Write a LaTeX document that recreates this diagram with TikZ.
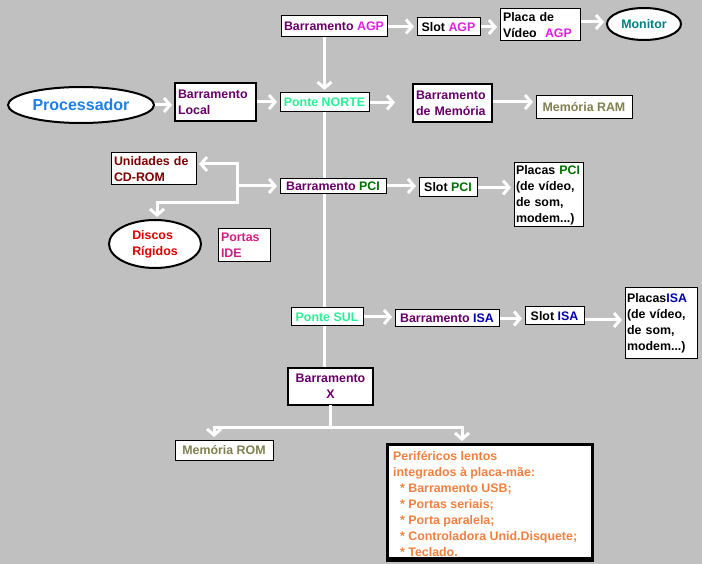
\documentclass[tikz,border=0pt]{standalone}
\usepackage{fontspec}
\setmainfont{Liberation Sans}
\usetikzlibrary{arrows.meta,shapes.geometric,calc}
\pgfdeclarelayer{bg}\pgfsetlayers{bg,main}
\definecolor{bgc}{RGB}{192,192,192}
\definecolor{purp}{RGB}{102,0,102}
\definecolor{magt}{RGB}{224,32,224}
\definecolor{tealt}{RGB}{0,128,128}
\definecolor{bluep}{RGB}{30,128,230}
\definecolor{mint}{RGB}{40,240,150}
\definecolor{olivet}{RGB}{128,128,80}
\definecolor{darkr}{RGB}{128,0,0}
\definecolor{redt}{RGB}{220,0,0}
\definecolor{pinkt}{RGB}{210,30,130}
\definecolor{greent}{RGB}{0,110,0}
\definecolor{bluei}{RGB}{0,0,170}
\definecolor{orat}{RGB}{240,128,64}
\begin{document}
\begin{tikzpicture}[x=1pt,y=-1pt,
  txt/.style={font=\bfseries\fontsize{12.4}{16}\selectfont},
  box/.style={txt,draw=black,fill=white,line width=1pt,inner sep=1pt,outer sep=0pt},
  tbox/.style={box,line width=2pt},
  lbox/.style={box,align=left,inner xsep=3pt,inner ysep=1pt},
  ell/.style={ellipse,txt,draw=black,fill=white,line width=2pt,inner sep=0pt,outer sep=0pt},
  wl/.style={draw=white,line width=3pt},
  warr/.style={wl,-{Straight Barb[length=6pt,width=14pt]},shorten >=3pt,shorten <=1pt}]
\useasboundingbox (0,0) rectangle (702,564);
% top row
\node[box,minimum width=106pt,minimum height=21pt] (agp) at (334,26.5) {\color{purp}Barramento \color{magt}AGP};
\node[box,minimum width=63pt,minimum height=18pt] (slotagp) at (448.5,27) {Slot \color{magt}AGP};
\node[lbox,text width=74pt,minimum height=32pt] (placa) at (540,25) {Placa de\\Vídeo\ \ {\color{magt}AGP}};
\node[ell,minimum width=74pt,minimum height=32pt,text=tealt] (mon) at (644,24) {Monitor};
% second row
\node[ell,minimum width=146pt,minimum height=36pt,text=bluep,font=\bfseries\fontsize{16}{19}\selectfont] (proc) at (81,105) {Processador};
\node[lbox,line width=2pt,text width=75pt,minimum height=38pt,text=purp] (local) at (215.5,102) {Barramento\\Local};
\node[box,minimum width=89pt,minimum height=19pt,text=mint] (pn) at (324.5,102.5) {Ponte NORTE};
\node[lbox,line width=2pt,text width=73pt,minimum height=38pt,text=purp] (mem) at (452.5,103) {Barramento\\de Memória};
\node[box,minimum width=96pt,minimum height=23pt,text=olivet] (ram) at (584,107.5) {Memória RAM};
% PCI row
\node[lbox,text width=79pt,minimum height=32pt,text=darkr] (cd) at (153.5,169) {Unidades de\\CD-ROM};
\node[box,minimum width=106pt,minimum height=15pt] (pci) at (333,186) {\color{purp}Barramento \color{greent}PCI};
\node[ell,align=left,minimum width=92pt,minimum height=48pt,text=redt] (dr) at (155,244) {Discos\\Rígidos};
\node[lbox,text width=46pt,minimum height=33pt,text=pinkt] (ide) at (244,245.5) {Portas\\IDE};
\node[box,minimum width=58pt,minimum height=19pt] (slotpci) at (448,187.5) {Slot \color{greent}PCI};
\node[lbox,text width=65pt,minimum height=64pt,inner xsep=2pt] (placaspci) at (548.5,195) {Placas {\color{greent}PCI}\\(de vídeo,\\de som,\\modem...)};
% ISA row
\node[box,minimum width=72pt,minimum height=18pt,text=mint] (ps) at (327,317) {Ponte SUL};
\node[box,minimum width=104pt,minimum height=17pt] (isa) at (447,318.5) {\color{purp}Barramento \color{bluei}ISA};
\node[box,minimum width=59pt,minimum height=18pt] (slotisa) at (554.5,316) {Slot \color{bluei}ISA};
\node[lbox,text width=68pt,minimum height=70pt,inner xsep=2pt] (placasisa) at (661,323) {Placas{\color{bluei}ISA}\\(de vídeo,\\de som,\\modem...)};
% bottom
\node[tbox,align=center,minimum width=85pt,minimum height=37pt,text=purp] (bx) at (330.5,386.5) {Barramento\\X};
\node[box,minimum width=98pt,minimum height=20pt,text=olivet] (rom) at (224,450) {Memória ROM};
\node[box,line width=3pt,minimum width=205pt,minimum height=116pt] (per) at (489.5,502) {};
\begin{scope}
\clip ([shift={(2pt,-2pt)}]per.north west) rectangle ([shift={(-2pt,4pt)}]per.south east);
\node[txt,anchor=north west,align=left,inner sep=0pt,text=orat] (pertext) at (393,451) {Periféricos lentos\\integrados à placa-mãe:\\\ \ * Barramento USB;\\\ \ * Portas seriais;\\\ \ * Porta paralela;\\\ \ * Controladora Unid.Disquete;\\\ \ * Teclado.};
\end{scope}
\draw[line width=3pt] (per.north west) rectangle (per.south east);
\draw[line width=4pt] ([yshift=1pt]per.south west) -- ([yshift=1pt]per.south east);
% coordinates
\coordinate (hub) at (237,186);
\coordinate (forkL) at (214,427);
\coordinate (forkR) at (462,427);
% connectors
\begin{pgfonlayer}{bg}
\fill[bgc] (0,0) rectangle (702,564);
\draw[wl] (pn.south) -- (pn.south |- bx.north);
\end{pgfonlayer}
\draw[warr] (agp.east) -- (agp.east -| slotagp.west);
\draw[warr] (slotagp.east) -- (slotagp.east -| placa.west);
\draw[warr] ([yshift=3pt]placa.east) -- ([yshift=3pt]placa.east -| mon.west);
\draw[warr,shorten <=0pt] (pn.north |- agp.south) -- (pn.north);
\draw[warr] (proc.east) -- (proc.east -| local.west);
\draw[warr] (local.east) -- (local.east -| pn.west);
\draw[warr,shorten >=18pt] (pn.east) -- (pn.east -| mem.west);
\draw[warr] ([yshift=1pt]mem.east) -- ([yshift=1pt]mem.east -| ram.west);
\draw[warr,shorten <=0pt] (hub) -- (hub -| pci.west);
\draw[warr,shorten <=0pt] (hub) |- ([yshift=5pt]cd.east);
\draw[warr,shorten <=0pt] (hub) -- ++(0,17) -| ([xshift=2pt]dr.north);
\draw[warr] (pci.east) -- (pci.east -| slotpci.west);
\draw[warr] (slotpci.east) -- (slotpci.east -| placaspci.west);
\draw[warr] (ps.east) -- (ps.east -| isa.west);
\draw[warr] (isa.east) -- (isa.east -| slotisa.west);
\draw[warr] ([yshift=-4pt]slotisa.east) -- ([yshift=-4pt]slotisa.east -| placasisa.west);
\draw[warr,shorten <=0pt] (bx.south) |- (forkL) -- (forkL |- rom.north);
\draw[warr,shorten <=0pt] (bx.south) |- (forkR) -- (forkR |- per.north);
\end{tikzpicture}
\end{document}
